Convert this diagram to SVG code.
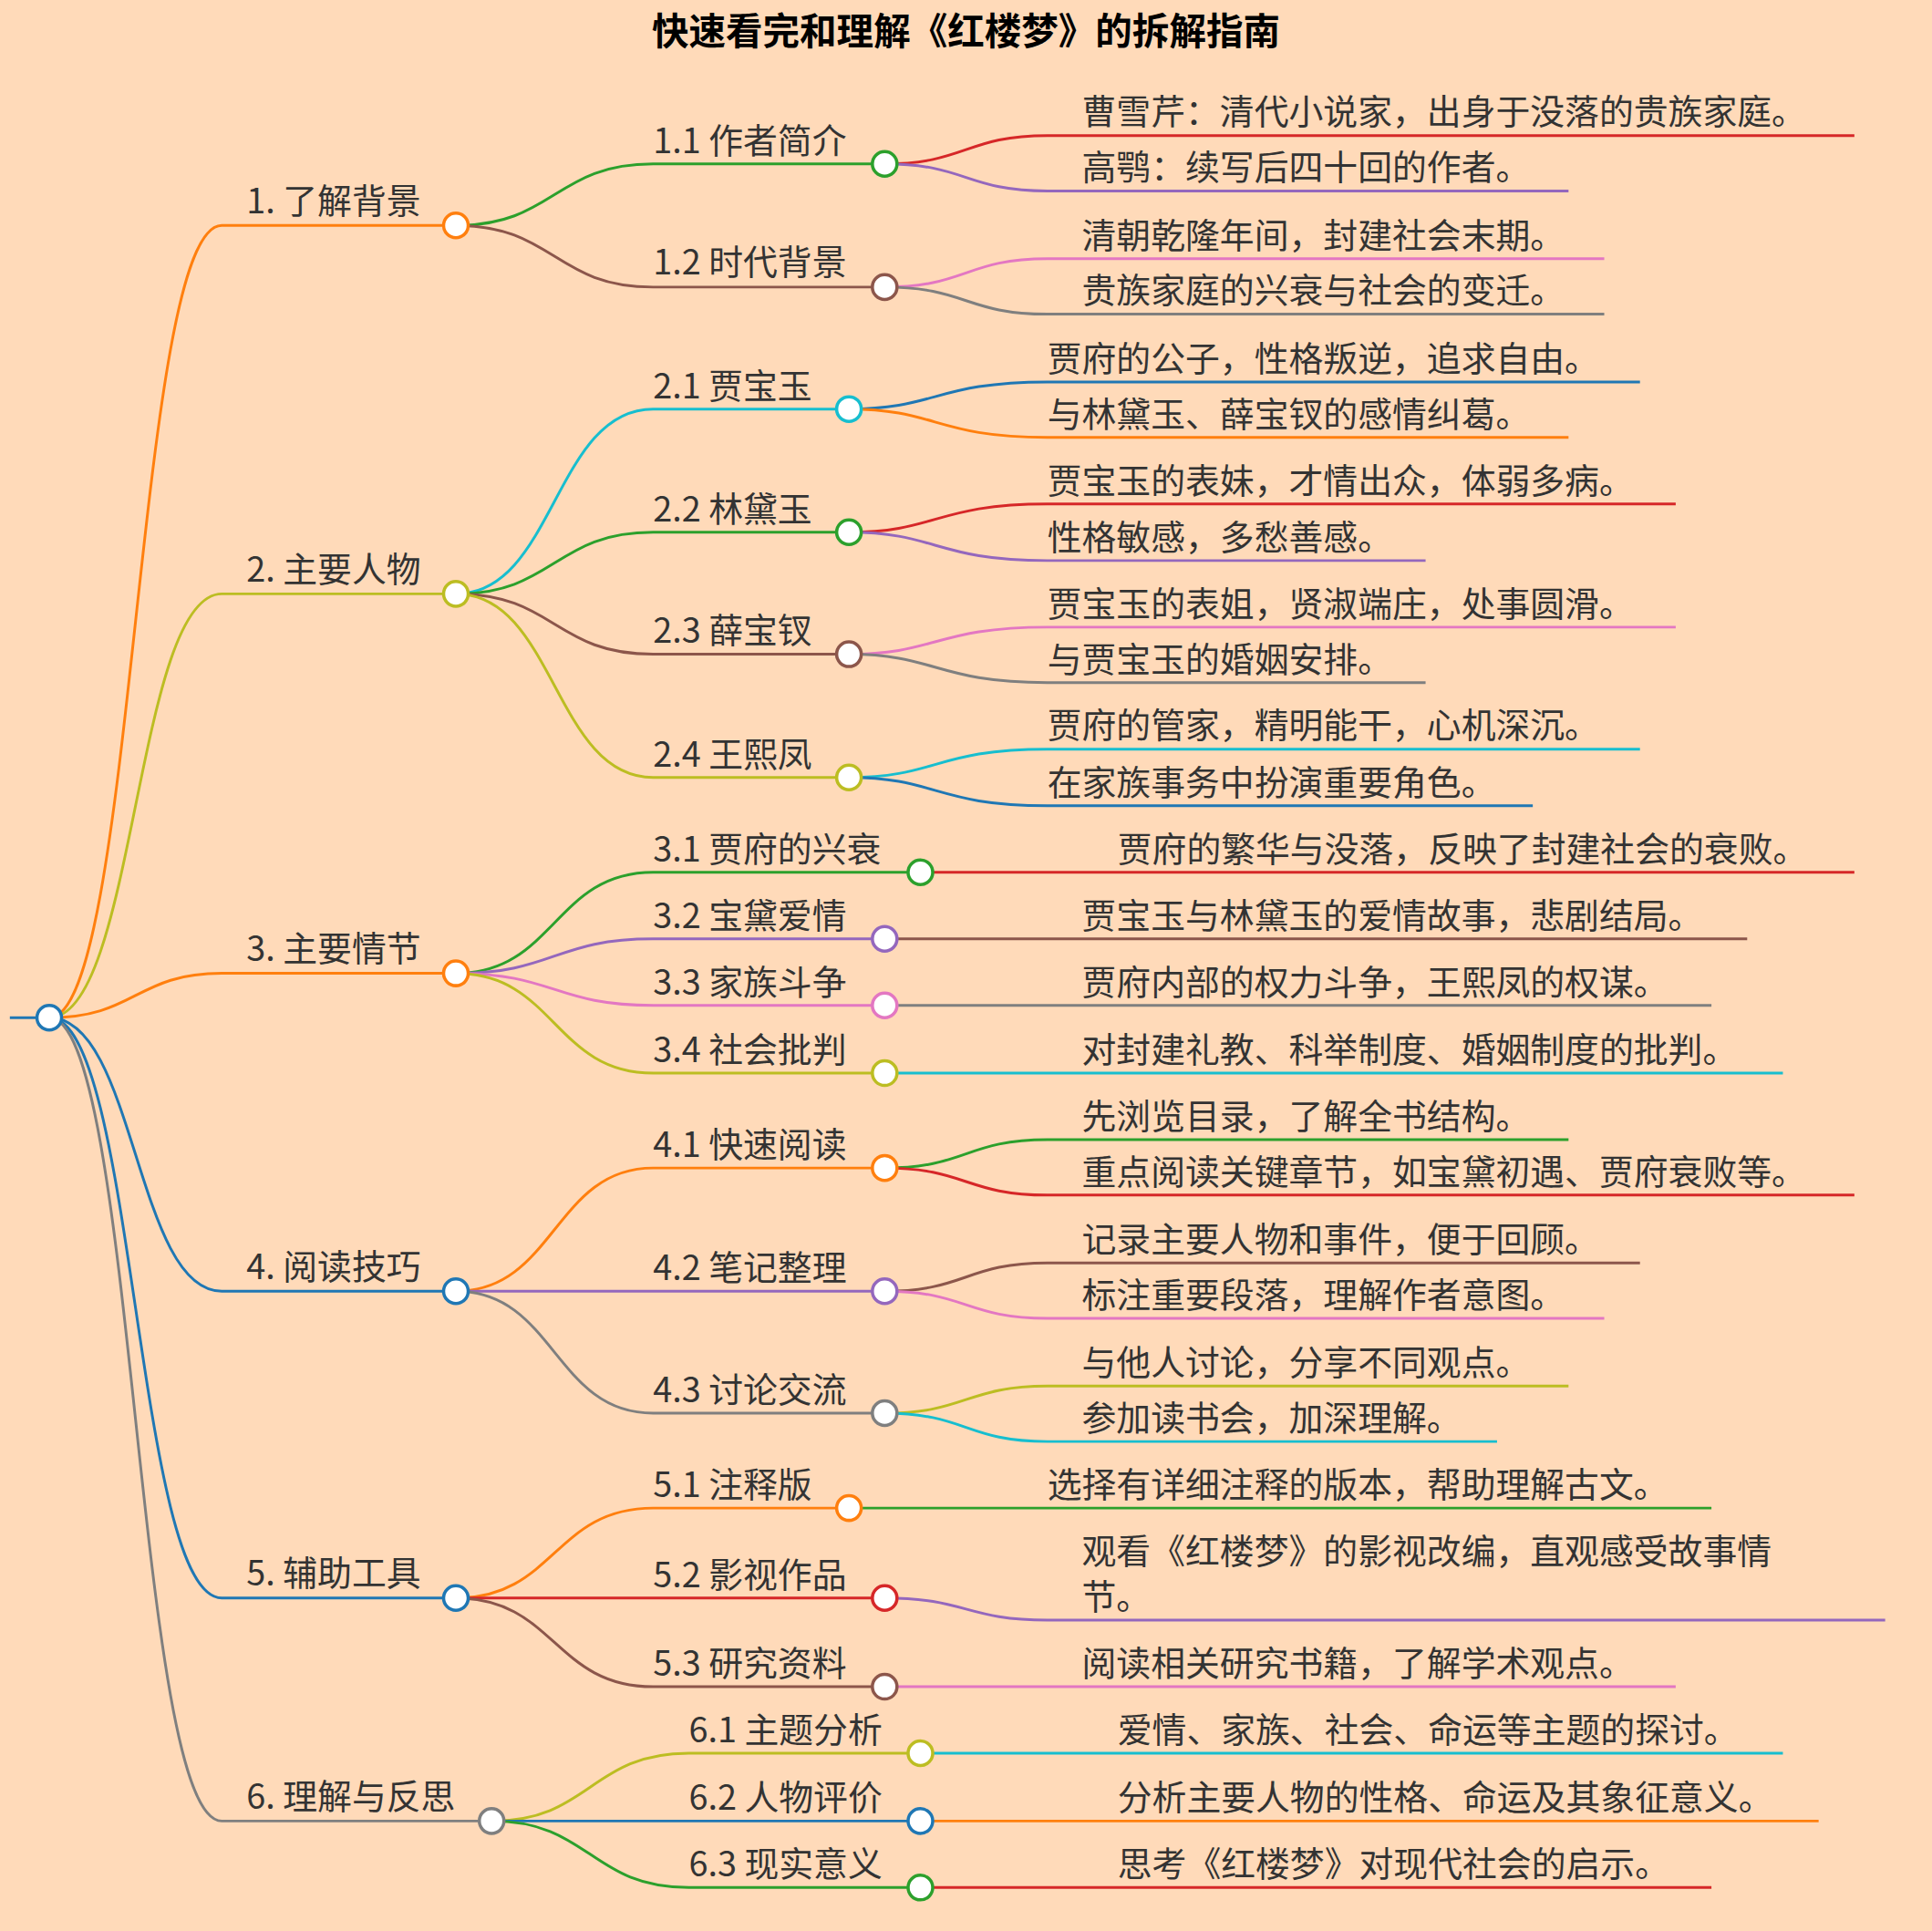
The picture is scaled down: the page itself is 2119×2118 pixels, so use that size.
<svg xmlns="http://www.w3.org/2000/svg" width="2119" height="2118" viewBox="0 0 2119 2118">
<style>
text{font-family:"Noto Sans CJK SC","Liberation Sans",sans-serif;fill:#333;font-size:28px}
.t{font-weight:bold;font-size:30px;text-anchor:middle;fill:#000}
path,line{fill:none;stroke-width:2.2}
circle{fill:#fff;stroke-width:2.6}
.o{stroke:#ff7f0e}.g{stroke:#2ca02c}.b{stroke:#8c564b}.r{stroke:#d62728}.p{stroke:#9467bd}.k{stroke:#e377c2}.y{stroke:#7f7f7f}.v{stroke:#bcbd22}.c{stroke:#17becf}.u{stroke:#1f77b4}
</style>
<rect width="2119" height="2118" fill="#ffdab9"/>
<g transform="scale(1.3514)">
<text class="t" x="784" y="36">快速看完和理解《红楼梦》的拆解指南</text>
<g id="connectors">
<line class="u" x1="8" y1="826" x2="30" y2="826"/>
<path class="o" d="M40 826C110 826 110 183 180 183H370"/>
<path class="v" d="M40 826C110 826 110 482 180 482H370"/>
<path class="o" d="M40 826C110 826 110 790 180 790H370"/>
<path class="u" d="M40 826C110 826 110 1048 180 1048H370"/>
<path class="u" d="M40 826C110 826 110 1297 180 1297H370"/>
<path class="y" d="M40 826C110 826 110 1478 180 1478H399"/>
<path class="g" d="M370 183C450 183 450 133 530 133H718"/>
<path class="b" d="M370 183C450 183 450 233 530 233H718"/>
<path class="r" d="M718 133C784 133 784 110 850 110H1505"/>
<path class="p" d="M718 133C784 133 784 155 850 155H1273"/>
<path class="k" d="M718 233C784 233 784 210 850 210H1302"/>
<path class="y" d="M718 233C784 233 784 255 850 255H1302"/>
<path class="c" d="M370 482C450 482 450 332 530 332H689"/>
<path class="g" d="M370 482C450 482 450 432 530 432H689"/>
<path class="b" d="M370 482C450 482 450 531 530 531H689"/>
<path class="v" d="M370 482C450 482 450 631 530 631H689"/>
<path class="u" d="M689 332C760 332 760 310 850 310H1331"/>
<path class="o" d="M689 332C760 332 760 355 850 355H1273"/>
<path class="r" d="M689 432C760 432 760 409 850 409H1360"/>
<path class="p" d="M689 432C760 432 760 455 850 455H1157"/>
<path class="k" d="M689 531C760 531 760 509 850 509H1360"/>
<path class="y" d="M689 531C760 531 760 554 850 554H1157"/>
<path class="c" d="M689 631C760 631 760 608 850 608H1331"/>
<path class="u" d="M689 631C760 631 760 654 850 654H1244"/>
<path class="g" d="M370 790C450 790 450 708 530 708H747"/>
<path class="p" d="M370 790C450 790 450 762 530 762H718"/>
<path class="k" d="M370 790C450 790 450 816 530 816H718"/>
<path class="v" d="M370 790C450 790 450 871 530 871H718"/>
<line class="r" x1="747" y1="708" x2="1505" y2="708"/>
<line class="b" x1="718" y1="762" x2="1418" y2="762"/>
<line class="y" x1="718" y1="816" x2="1389" y2="816"/>
<line class="c" x1="718" y1="871" x2="1447" y2="871"/>
<path class="o" d="M370 1048C450 1048 450 948 530 948H718"/>
<path class="p" d="M370 1048H718"/>
<path class="y" d="M370 1048C450 1048 450 1147 530 1147H718"/>
<path class="g" d="M718 948C784 948 784 925 850 925H1273"/>
<path class="r" d="M718 948C784 948 784 970 850 970H1505"/>
<path class="b" d="M718 1048C784 1048 784 1025 850 1025H1331"/>
<path class="k" d="M718 1048C784 1048 784 1070 850 1070H1302"/>
<path class="v" d="M718 1147C784 1147 784 1125 850 1125H1273"/>
<path class="c" d="M718 1147C784 1147 784 1170 850 1170H1215"/>
<path class="o" d="M370 1297C450 1297 450 1224 530 1224H689"/>
<path class="r" d="M370 1297H718"/>
<path class="b" d="M370 1297C450 1297 450 1369 530 1369H718"/>
<line class="g" x1="689" y1="1224" x2="1389" y2="1224"/>
<path class="p" d="M718 1297C784 1297 784 1315 850 1315H1530"/>
<line class="k" x1="718" y1="1369" x2="1360" y2="1369"/>
<path class="v" d="M399 1478C479 1478 479 1423 559 1423H747"/>
<path class="u" d="M399 1478H747"/>
<path class="g" d="M399 1478C479 1478 479 1532 559 1532H747"/>
<line class="c" x1="747" y1="1423" x2="1447" y2="1423"/>
<line class="o" x1="747" y1="1478" x2="1476" y2="1478"/>
<line class="r" x1="747" y1="1532" x2="1389" y2="1532"/>
</g>
<g id="root"><circle class="u" cx="40" cy="826" r="10"/></g>
<g id="n1"><circle class="o" cx="370" cy="183" r="10"/><text x="200" y="173">1. 了解背景</text></g>
<g id="n11"><circle class="g" cx="718" cy="133" r="10"/><text x="530" y="124">1.1 作者简介</text></g>
<g id="n12"><circle class="b" cx="718" cy="233" r="10"/><text x="530" y="223">1.2 时代背景</text></g>
<g id="l11"><text x="878" y="101">曹雪芹：清代小说家，出身于没落的贵族家庭。</text><text x="878" y="146">高鹗：续写后四十回的作者。</text></g>
<g id="l12"><text x="878" y="201">清朝乾隆年间，封建社会末期。</text><text x="878" y="246">贵族家庭的兴衰与社会的变迁。</text></g>
<g id="n2"><circle class="v" cx="370" cy="482" r="10"/><text x="200" y="472">2. 主要人物</text></g>
<g id="n21"><circle class="c" cx="689" cy="332" r="10"/><text x="530" y="323">2.1 贾宝玉</text></g>
<g id="n22"><circle class="g" cx="689" cy="432" r="10"/><text x="530" y="423">2.2 林黛玉</text></g>
<g id="n23"><circle class="b" cx="689" cy="531" r="10"/><text x="530" y="522">2.3 薛宝钗</text></g>
<g id="n24"><circle class="v" cx="689" cy="631" r="10"/><text x="530" y="622">2.4 王熙凤</text></g>
<g id="l2"><text x="850" y="301">贾府的公子，性格叛逆，追求自由。</text><text x="850" y="346">与林黛玉、薛宝钗的感情纠葛。</text>
<text x="850" y="400">贾宝玉的表妹，才情出众，体弱多病。</text><text x="850" y="446">性格敏感，多愁善感。</text>
<text x="850" y="500">贾宝玉的表姐，贤淑端庄，处事圆滑。</text><text x="850" y="545">与贾宝玉的婚姻安排。</text>
<text x="850" y="599">贾府的管家，精明能干，心机深沉。</text><text x="850" y="645">在家族事务中扮演重要角色。</text></g>
<g id="n3"><circle class="o" cx="370" cy="790" r="10"/><text x="200" y="780">3. 主要情节</text></g>
<g id="n31"><circle class="g" cx="747" cy="708" r="10"/><text x="530" y="699">3.1 贾府的兴衰</text></g>
<g id="n32"><circle class="p" cx="718" cy="762" r="10"/><text x="530" y="753">3.2 宝黛爱情</text></g>
<g id="n33"><circle class="k" cx="718" cy="816" r="10"/><text x="530" y="807">3.3 家族斗争</text></g>
<g id="n34"><circle class="v" cx="718" cy="871" r="10"/><text x="530" y="862">3.4 社会批判</text></g>
<g id="l3"><text x="907" y="699">贾府的繁华与没落，反映了封建社会的衰败。</text><text x="878" y="753">贾宝玉与林黛玉的爱情故事，悲剧结局。</text>
<text x="878" y="807">贾府内部的权力斗争，王熙凤的权谋。</text><text x="878" y="862">对封建礼教、科举制度、婚姻制度的批判。</text></g>
<g id="n4"><circle class="u" cx="370" cy="1048" r="10"/><text x="200" y="1038">4. 阅读技巧</text></g>
<g id="n41"><circle class="o" cx="718" cy="948" r="10"/><text x="530" y="939">4.1 快速阅读</text></g>
<g id="n42"><circle class="p" cx="718" cy="1048" r="10"/><text x="530" y="1039">4.2 笔记整理</text></g>
<g id="n43"><circle class="y" cx="718" cy="1147" r="10"/><text x="530" y="1138">4.3 讨论交流</text></g>
<g id="l4"><text x="878" y="916">先浏览目录，了解全书结构。</text><text x="878" y="961">重点阅读关键章节，如宝黛初遇、贾府衰败等。</text>
<text x="878" y="1016">记录主要人物和事件，便于回顾。</text><text x="878" y="1061">标注重要段落，理解作者意图。</text>
<text x="878" y="1116">与他人讨论，分享不同观点。</text><text x="878" y="1161">参加读书会，加深理解。</text></g>
<g id="n5"><circle class="u" cx="370" cy="1297" r="10"/><text x="200" y="1287">5. 辅助工具</text></g>
<g id="n51"><circle class="o" cx="689" cy="1224" r="10"/><text x="530" y="1215">5.1 注释版</text></g>
<g id="n52"><circle class="r" cx="718" cy="1297" r="10"/><text x="530" y="1288">5.2 影视作品</text></g>
<g id="n53"><circle class="b" cx="718" cy="1369" r="10"/><text x="530" y="1360">5.3 研究资料</text></g>
<g id="l5"><text x="850" y="1215">选择有详细注释的版本，帮助理解古文。</text><text x="878" y="1269">观看《红楼梦》的影视改编，直观感受故事情</text><text x="878" y="1306">节。</text>
<text x="878" y="1360">阅读相关研究书籍，了解学术观点。</text></g>
<g id="n6"><circle class="y" cx="399" cy="1478" r="10"/><text x="200" y="1468">6. 理解与反思</text></g>
<g id="n61"><circle class="v" cx="747" cy="1423" r="10"/><text x="559" y="1414">6.1 主题分析</text></g>
<g id="n62"><circle class="u" cx="747" cy="1478" r="10"/><text x="559" y="1469">6.2 人物评价</text></g>
<g id="n63"><circle class="g" cx="747" cy="1532" r="10"/><text x="559" y="1523">6.3 现实意义</text></g>
<g id="l6"><text x="907" y="1414">爱情、家族、社会、命运等主题的探讨。</text><text x="907" y="1469">分析主要人物的性格、命运及其象征意义。</text><text x="907" y="1523">思考《红楼梦》对现代社会的启示。</text></g>
</g>
</svg>
